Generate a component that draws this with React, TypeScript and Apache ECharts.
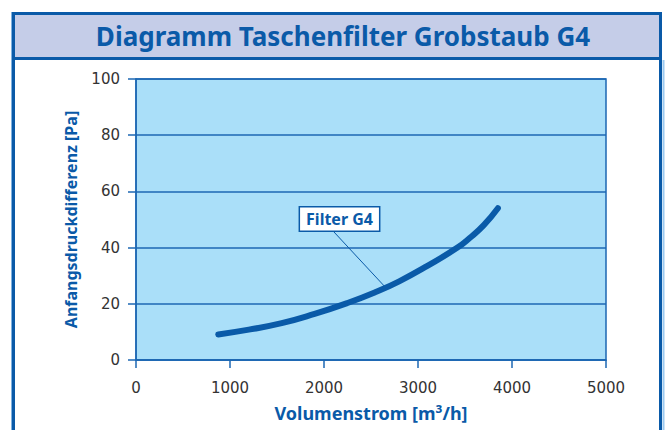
import React, { useEffect, useRef } from "react";
import * as echarts from "echarts";

const titleText = "Diagramm Taschenfilter Grobstaub G4";
const xAxisName = "Volumenstrom [m³/h]";
const yAxisName = "Anfangsdruckdifferenz [Pa]";
const seriesName = "Filter G4";

// Volumenstrom [m³/h]
const flowValues = [875, 1200, 1550, 1900, 2250, 2550, 2800, 3100, 3420, 3550, 3700, 3850];
// Anfangsdruckdifferenz [Pa]
const pressureValues = [9.1, 10.8, 13.1, 16.4, 20.3, 24.2, 28.0, 33.5, 40.0, 43.4, 48.0, 54.0];

// annotation anchor points (data space)
const labelAnchor = [2165, 50.2];
const leaderStart = [2105, 45.6];
const leaderEnd = [2650, 26.0];

const BLUE = "#0a5aa8";
const AXIS_BLUE = "#1c67b3";
const FONT = "'Noto Sans', sans-serif";
const TICK_FONT = "'DejaVu Sans', sans-serif";

export default function App() {
  const ref = useRef<HTMLDivElement>(null);

  useEffect(() => {
    if (!ref.current) return;
    const chart = echarts.init(ref.current, undefined, { renderer: "svg" });
    const data = flowValues.map((x, i) => [x, pressureValues[i]]);
    chart.setOption({
      animation: false,
      backgroundColor: "#ffffff",
      textStyle: { fontFamily: FONT },
      graphic: [
        {
          type: "rect",
          shape: { x: 13.5, y: 13.5, width: 647, height: 45 },
          style: { fill: "#c5cde8", stroke: BLUE, lineWidth: 3 },
        },
        {
          type: "rect",
          shape: { x: 13.5, y: 13.5, width: 647, height: 440 },
          style: { fill: "none", stroke: BLUE, lineWidth: 3 },
        },
        {
          type: "line",
          shape: { x1: 11.5, y1: 12, x2: 11.5, y2: 430 },
          style: { stroke: "#7fb2e0", lineWidth: 1 },
        },
        {
          type: "line",
          shape: { x1: 663.5, y1: 60, x2: 663.5, y2: 430 },
          style: { stroke: "#9ccaf0", lineWidth: 2 },
        },
      ],
      title: {
        text: titleText,
        left: 338,
        top: 18,
        textAlign: "center",
        textStyle: {
          fontFamily: FONT,
          fontWeight: "bold",
          fontSize: 26,
          color: BLUE,
        },
      },
      grid: {
        left: 136,
        top: 79,
        right: 59,
        bottom: 70,
        show: true,
        backgroundColor: "#aadff9",
        borderColor: AXIS_BLUE,
        borderWidth: 1.5,
      },
      xAxis: {
        type: "value",
        min: 0,
        max: 5000,
        interval: 1000,
        name: xAxisName,
        nameLocation: "middle",
        nameGap: 44,
        nameTextStyle: { fontFamily: FONT, fontWeight: "bold", fontSize: 18, color: BLUE },
        axisLine: { show: true, lineStyle: { color: AXIS_BLUE, width: 1.5 } },
        axisTick: { show: true, length: 8, lineStyle: { color: AXIS_BLUE, width: 1.5 } },
        axisLabel: {
          margin: 20,
          fontSize: 15,
          color: "#333333",
          fontFamily: TICK_FONT,
          formatter: (v: number) => String(v),
        },
        splitLine: { show: false },
      },
      yAxis: {
        type: "value",
        min: 0,
        max: 100,
        interval: 20,
        name: yAxisName,
        nameLocation: "middle",
        nameGap: 57,
        nameTextStyle: { fontFamily: FONT, fontWeight: "bold", fontSize: 16, color: BLUE },
        axisLine: { show: true, lineStyle: { color: AXIS_BLUE, width: 1.5 } },
        axisTick: { show: true, length: 8, lineStyle: { color: AXIS_BLUE, width: 1.5 } },
        axisLabel: {
          margin: 16,
          fontSize: 15,
          color: "#333333",
          fontFamily: TICK_FONT,
          formatter: (v: number) => String(v),
        },
        splitLine: { show: true, lineStyle: { color: AXIS_BLUE, width: 1.5 } },
      },
      series: [
        {
          type: "line",
          name: seriesName,
          data,
          smooth: 0.5,
          showSymbol: false,
          symbol: "none",
          lineStyle: { color: BLUE, width: 6, cap: "round", join: "round" },
          z: 5,
          markLine: {
            silent: true,
            symbol: "none",
            label: { show: false },
            lineStyle: { color: BLUE, width: 1, type: "solid" },
            data: [[{ coord: leaderStart }, { coord: leaderEnd }]],
          },
          markPoint: {
            silent: true,
            symbol: "rect",
            symbolSize: 1,
            itemStyle: { color: "rgba(0,0,0,0)" },
            label: {
              show: true,
              position: "inside",
              formatter: seriesName,
              fontFamily: FONT,
              fontWeight: "bold",
              fontSize: 16,
              color: BLUE,
              backgroundColor: "#ffffff",
              borderColor: BLUE,
              borderWidth: 1.5,
              padding: [4, 6, 3, 6],
            },
            data: [{ coord: labelAnchor }],
          },
        },
      ],
    });
    return () => chart.dispose();
  }, []);

  return (
    <div
      ref={ref}
      style={{ position: "fixed", left: 0, top: 0, width: 665, height: 430 }}
    />
  );
}
